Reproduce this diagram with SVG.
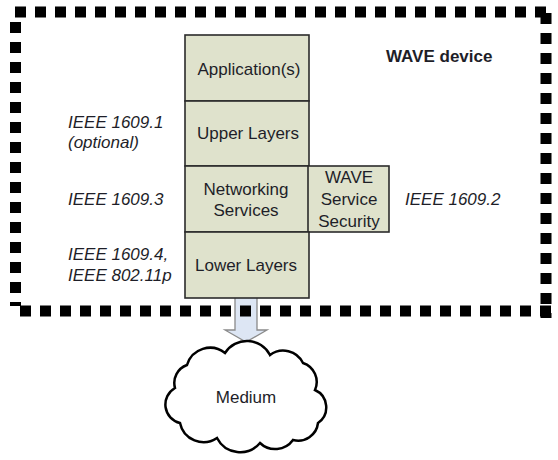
<svg xmlns="http://www.w3.org/2000/svg" width="558" height="460" viewBox="0 0 558 460">
<style>
.frame{stroke:#000;stroke-width:11;stroke-dasharray:11 9;fill:none}
.box{fill:#dfe2cc;stroke:#2b2b2b;stroke-width:1.6}
.t{font-family:"Liberation Sans",Arial,sans-serif;font-size:17px;fill:#1e1e28;text-anchor:middle}
.it{font-family:"Liberation Sans",Arial,sans-serif;font-size:17px;font-style:italic;fill:#1e1e28}
.b{font-family:"Liberation Sans",Arial,sans-serif;font-size:17px;font-weight:bold;fill:#1e1e28}
</style>
<rect width="558" height="460" fill="#fff"/>
<g id="connectors">
<path d="M235,297 L257,297 L257,330 L267,330 L246,342 L225,330 L235,330 Z" fill="#dde6f4" stroke="#8a8a8a" stroke-width="1.3"/>
</g>
<g id="frame">
<line class="frame" x1="15" y1="12" x2="546" y2="12"/>
<line class="frame" x1="546" y1="13" x2="546" y2="318"/>
<line class="frame" x1="20" y1="311" x2="552" y2="311"/>
<line class="frame" x1="15.5" y1="22" x2="15.5" y2="306"/>
</g>
<g id="wave-device-label"><text class="b" x="386" y="62">WAVE device</text></g>
<g id="applications"><rect class="box" x="185" y="35" width="124" height="66"/><text class="t" x="249" y="75">Application(s)</text></g>
<g id="upper-layers"><rect class="box" x="185" y="101" width="124" height="65"/><text class="t" x="248" y="139">Upper Layers</text></g>
<g id="networking-services"><rect class="box" x="185" y="166" width="124" height="66"/><text class="t" x="246" y="195">Networking</text><text class="t" x="246" y="216">Services</text></g>
<g id="wave-service-security"><rect class="box" x="308" y="166" width="81" height="66"/><text class="t" x="349" y="183">WAVE</text><text class="t" x="349" y="205">Service</text><text class="t" x="349" y="227">Security</text></g>
<g id="lower-layers"><rect class="box" x="185" y="232" width="124" height="66"/><text class="t" x="246" y="271">Lower Layers</text></g>
<g id="labels">
<text class="it" x="68" y="128">IEEE 1609.1</text>
<text class="it" x="68" y="148">(optional)</text>
<text class="it" x="68" y="205">IEEE 1609.3</text>
<text class="it" x="68" y="260">IEEE 1609.4,</text>
<text class="it" x="68" y="281">IEEE 802.11p</text>
<text class="it" x="405" y="205">IEEE 1609.2</text>
</g>
<g id="medium">
<path d="M187,365 A24,24 0 0 1 225,353 A26,26 0 0 1 270,355 A22,22 0 0 1 303,363 A20,20 0 0 1 315,390 A19,19 0 0 1 318,423 A20,20 0 0 1 293,440 A22,22 0 0 1 260,443 A26,26 0 0 1 217,438 A24,24 0 0 1 180,423 A19,19 0 0 1 175,388 A19,19 0 0 1 187,365 Z" fill="#fff" stroke="#000" stroke-width="2.5"/>
<text class="t" x="246" y="403">Medium</text>
</g>
</svg>
